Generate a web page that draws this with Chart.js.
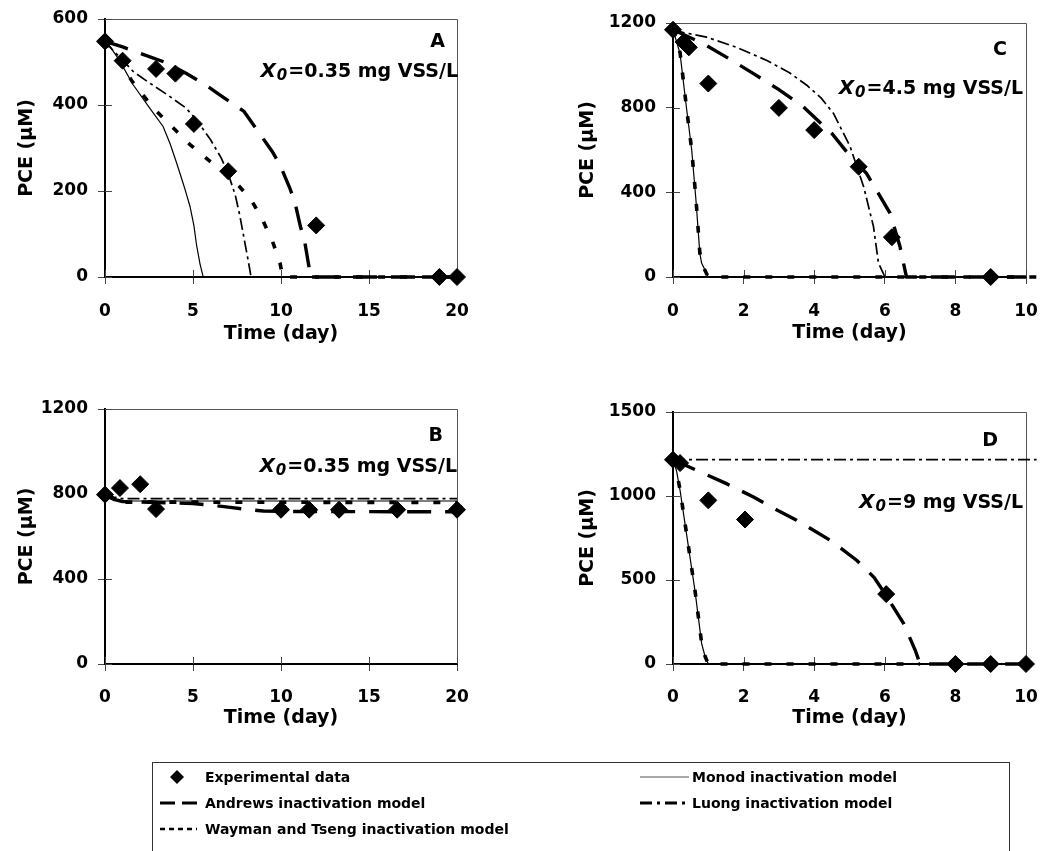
<!DOCTYPE html>
<html>
<head>
<meta charset="utf-8">
<script src="https://cdn.jsdelivr.net/npm/chart.js@4.4.1/dist/chart.umd.min.js"></script>
<style>
  body { margin: 0; background: #fff; width: 1041px; height: 851px; position: relative; overflow: hidden; }
  canvas { position: absolute; }
  #legend { position: absolute; left: 0; top: 0; }
  #legend text { font-family: "DejaVu Sans", sans-serif; font-weight: bold; font-size: 14px; fill: #000; }
</style>
</head>
<body>
<canvas id="chartA" width="480" height="350" style="left:0;top:0"></canvas>
<canvas id="chartB" width="480" height="350" style="left:0;top:390px"></canvas>
<canvas id="chartC" width="521" height="350" style="left:520px;top:0"></canvas>
<canvas id="chartD" width="521" height="350" style="left:520px;top:390px"></canvas>

<svg id="legend" width="1041" height="851">
  <rect x="152.5" y="762.5" width="857" height="120" fill="none" stroke="#333" stroke-width="1"/>
  <polygon points="177,770 184,777 177,784 170,777" fill="#000"/>
  <text x="205" y="782">Experimental data</text>
  <line x1="640" y1="777" x2="689" y2="777" stroke="#555" stroke-width="1"/>
  <text x="692" y="782">Monod inactivation model</text>
  <line x1="160" y1="803" x2="197" y2="803" stroke="#000" stroke-width="3" stroke-dasharray="15,7"/>
  <text x="205" y="808">Andrews inactivation model</text>
  <line x1="640" y1="803" x2="689" y2="803" stroke="#000" stroke-width="3" stroke-dasharray="12,5,3,5"/>
  <text x="692" y="808">Luong inactivation model</text>
  <line x1="160" y1="829" x2="197" y2="829" stroke="#000" stroke-width="2.5" stroke-dasharray="5,4"/>
  <text x="205" y="834">Wayman and Tseng inactivation model</text>
</svg>

<script>
// PANEL A  (X0 = 0.35 mg VSS/L)  [time (day), PCE (uM)]
const expA = [[0,548],[1,503],[2.9,484],[4,473],[5.05,356],[7,246],[12,120],[19,0],[20,0]];
const monodA = [[0,548],[0.3,535],[0.8,505],[1.6,447],[2.5,395],[3.3,350],[3.7,310],[4.07,265],[4.5,210],[4.83,164],[5.05,120],[5.2,75],[5.4,30],[5.58,0],[20,0]];
const andrewsA = [[0,548],[1,535],[2.2,517],[3.5,498],[4.6,474],[5.7,447],[6.5,424],[7.9,385],[8.5,350],[9.5,292],[9.94,261],[10.5,207],[10.8,172],[11.1,118],[11.36,79],[11.55,33],[11.7,0],[20,0]];
const luongA = [[0,548],[0.5,525],[1,505],[1.6,478],[2.5,452],[3.5,425],[4.6,393],[5.2,365],[6,319],[6.6,277],[7,240],[7.4,191],[7.67,141],[7.95,79],[8.15,35],[8.3,0],[20,0]];
const waymanA = [[0,548],[0.5,518],[1,488],[1.6,452],[2.74,393],[3.7,354],[4.83,308],[5.97,269],[7,235],[7.6,212],[8.3,180],[9,129],[9.55,79],[9.94,33],[10.1,0],[20,0]];

// PANEL B  (X0 = 0.35 mg VSS/L)
const expB = [[0,797],[0.85,828],[2,846],[2.9,729],[10,726],[11.6,726],[13.3,726],[16.6,726],[20,726]];
const monodB = [[0,797],[0.3,782],[0.6,772],[1,767],[20,767]];
const andrewsB = [[0,797],[0.5,775],[1,765],[3,760],[5,755],[6,748],[7,738],[8,728],[9,720],[10,718],[20,716]];
const luongB = [[0,797],[0.5,785],[1,778],[20,778]];
const waymanB = [[0,797],[0.5,774],[1,762],[20,760]];

// PANEL C  (X0 = 4.5 mg VSS/L)
const expC = [[0,1168],[0.3,1110],[0.45,1085],[1,914],[3,799],[4,694],[5.26,521],[6.2,188],[9,0]];
const monodC = [[0,1168],[0.2,1055],[0.39,788],[0.53,600],[0.65,364],[0.76,113],[0.81,66],[1,0],[10,0]];
const andrewsC = [[0,1168],[0.86,1102],[1.5,1040],[2.28,961],[3,885],[3.69,804],[4.5,678],[5,575],[5.48,490],[5.8,400],[6.15,301],[6.43,144],[6.6,10],[6.62,0],[10,0]];
const luongC = [[0,1168],[0.3,1155],[0.95,1133],[1.8,1085],[2.66,1023],[3.3,965],[3.79,906],[4.2,845],[4.55,772],[5.02,615],[5.4,427],[5.68,238],[5.82,66],[5.95,20],[6,0],[10,0]];
const waymanC = [[0,1168],[0.2,1060],[0.39,790],[0.53,600],[0.65,370],[0.76,115],[0.82,60],[1,0],[10.3,0]];

// PANEL D  (X0 = 9 mg VSS/L)
const expD = [[0,1216],[0.2,1196],[1,974],[2.04,860],[6.04,416],[8,0],[9,0],[10,0]];
const monodD = [[0,1216],[0.1,1150],[0.2,1034],[0.34,836],[0.48,638],[0.62,440],[0.74,242],[0.81,123],[0.91,43],[1,0],[10,0]];
const andrewsD = [[0,1216],[0.67,1153],[1.5,1075],[2.28,994],[3,910],[3.5,856],[4.45,737],[5.2,618],[5.7,515],[6.06,400],[6.53,242],[6.86,83],[7,0],[10.3,0]];
const luongD = [[0,1216],[10.3,1216]];
const waymanD = [[0,1216],[0.1,1150],[0.2,1036],[0.34,838],[0.48,640],[0.62,442],[0.74,245],[0.81,125],[0.91,45],[1,0],[7,0]];

Chart.defaults.font.family = "'DejaVu Sans', sans-serif";
Chart.defaults.font.weight = "bold";
Chart.defaults.color = "#000";

const pts = (arr) => arr.map((p) => ({ x: p[0], y: p[1] }));

// top/right frame + inner half of the crossing tick marks
const frameTicks = {
  id: "frameTicks",
  beforeDatasetsDraw(chart) {
    const { ctx, chartArea: a, scales } = chart;
    ctx.save();
    ctx.strokeStyle = "#555";
    ctx.lineWidth = 1;
    ctx.beginPath();
    ctx.moveTo(a.left, a.top + 0.5);
    ctx.lineTo(a.right + 0.5, a.top + 0.5);
    ctx.lineTo(a.right + 0.5, a.bottom);
    ctx.stroke();
    ctx.strokeStyle = "#444";
    ctx.beginPath();
    scales.x.ticks.forEach((t, i) => {
      const px = Math.round(scales.x.getPixelForTick(i)) + 0.5;
      ctx.moveTo(px, a.bottom);
      ctx.lineTo(px, a.bottom - 7);
    });
    scales.y.ticks.forEach((t, i) => {
      const py = Math.round(scales.y.getPixelForTick(i)) + 0.5;
      ctx.moveTo(a.left, py);
      ctx.lineTo(a.left + 7, py);
    });
    ctx.stroke();
    ctx.restore();
  },
};

// panel letter and X0 label
const panelText = {
  id: "panelText",
  afterDraw(chart, args, opts) {
    const ctx = chart.ctx;
    ctx.save();
    ctx.fillStyle = "#000";
    ctx.textBaseline = "alphabetic";
    ctx.textAlign = "right";
    ctx.font = "bold 19px 'DejaVu Sans'";
    ctx.fillText(opts.letter, opts.letterX, opts.letterY);
    let x = opts.labelX;
    const rest = "=" + opts.conc;
    ctx.fillText(rest, x, opts.labelY);
    x -= ctx.measureText(rest).width + 1;
    ctx.font = "italic bold 15px 'DejaVu Sans'";
    ctx.fillText("0", x, opts.labelY + 3);
    x -= ctx.measureText("0").width + 1;
    ctx.font = "italic bold 20px 'DejaVu Sans'";
    ctx.fillText("X", x, opts.labelY);
    ctx.restore();
  },
};

function buildChart(id, p) {
  const line = (data, width, dash) => ({
    data: pts(data),
    showLine: true,
    borderColor: "#000",
    borderWidth: width,
    borderDash: dash,
    pointRadius: 0,
    clip: false,
  });
  new Chart(document.getElementById(id), {
    type: "scatter",
    data: {
      datasets: [
        {
          data: pts(p.exp),
          pointStyle: "rectRot",
          pointRadius: 8.5,
          backgroundColor: "#000",
          borderColor: "#000",
          clip: false,
        },
        line(p.monod, 1.2, []),
        line(p.andrews, 3.4, [24, 14]),
        line(p.luong, 1.7, [12, 4, 3, 4]),
        line(p.wayman, 3.6, [7, 15]),
      ],
    },
    options: {
      responsive: false,
      animation: false,
      events: [],
      layout: { padding: p.padding },
      plugins: {
        legend: { display: false },
        tooltip: { enabled: false },
        panelText: p.text,
      },
      scales: {
        x: {
          type: "linear",
          min: 0,
          max: p.xMax,
          ticks: { stepSize: p.xStep, padding: p.xTickPad, maxRotation: 0, font: { size: 17, weight: "bold" } },
          grid: { drawOnChartArea: false, tickLength: 7, color: "#444" },
          border: { color: "#000", width: 2 },
          title: { display: true, text: "Time (day)", font: { size: 19, weight: "bold" }, padding: { top: 0, bottom: p.xTitlePad } },
          afterFit: (s) => {
            s.height = 70;
            s.paddingLeft = 0;
            s.paddingRight = 0;
          },
        },
        y: {
          min: 0,
          max: p.yMax,
          ticks: { stepSize: p.yStep, padding: 10, font: { size: 17, weight: "bold" }, callback: (v) => String(v) },
          grid: { drawOnChartArea: false, tickLength: 7, color: "#444" },
          border: { color: "#000", width: 2 },
          title: { display: true, text: "PCE (µM)", font: { size: 19, weight: "bold" }, padding: { top: p.yTitlePad, bottom: 0 } },
          afterFit: (s) => {
            s.width = p.yWidth;
            s.paddingTop = 0;
            s.paddingBottom = 0;
          },
        },
      },
    },
    plugins: [frameTicks, panelText],
  });
}

buildChart("chartA", {
  exp: expA, monod: monodA, andrews: andrewsA, luong: luongA, wayman: waymanA,
  xMax: 20, xStep: 5, yMax: 600, yStep: 200,
  padding: { left: 0, top: 19, right: 23, bottom: 3 },
  yWidth: 105, yTitlePad: 15.6, xTickPad: 17, xTitlePad: 2,
  text: { letter: "A", letterX: 445, letterY: 46.5, conc: "0.35 mg VSS/L", labelX: 458, labelY: 77 },
});
buildChart("chartB", {
  exp: expB, monod: monodB, andrews: andrewsB, luong: luongB, wayman: waymanB,
  xMax: 20, xStep: 5, yMax: 1200, yStep: 400,
  padding: { left: 0, top: 19, right: 23, bottom: 6 },
  yWidth: 105, yTitlePad: 15.6, xTickPad: 16, xTitlePad: 4.6,
  text: { letter: "B", letterX: 443, letterY: 50.7, conc: "0.35 mg VSS/L", labelX: 457, labelY: 81.5 },
});
buildChart("chartC", {
  exp: expC, monod: monodC, andrews: andrewsC, luong: luongC, wayman: waymanC,
  xMax: 10, xStep: 2, yMax: 1200, yStep: 400,
  padding: { left: 0, top: 23, right: 15, bottom: 3 },
  yWidth: 153, yTitlePad: 56.6, xTickPad: 17, xTitlePad: 2.6,
  text: { letter: "C", letterX: 487, letterY: 55, conc: "4.5 mg VSS/L", labelX: 503, labelY: 94 },
});
buildChart("chartD", {
  exp: expD, monod: monodD, andrews: andrewsD, luong: luongD, wayman: waymanD,
  xMax: 10, xStep: 2, yMax: 1500, yStep: 500,
  padding: { left: 0, top: 22, right: 15, bottom: 6 },
  yWidth: 153, yTitlePad: 56.6, xTickPad: 16, xTitlePad: 4.6,
  text: { letter: "D", letterX: 478, letterY: 56, conc: "9 mg VSS/L", labelX: 503, labelY: 117.5 },
});
</script>
</body>
</html>
